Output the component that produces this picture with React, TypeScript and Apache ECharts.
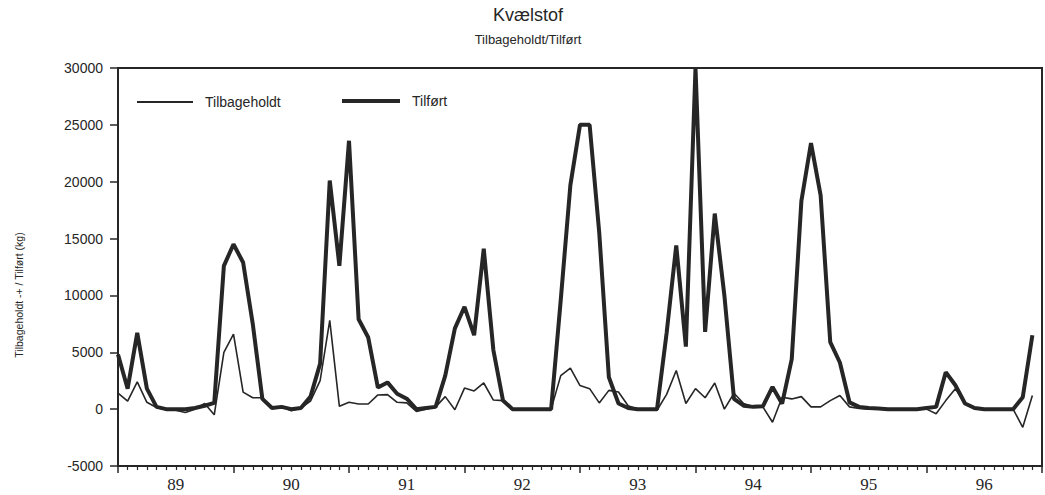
import React, { useEffect, useRef } from "react";
import * as echarts from "echarts";

const yearLabels = ["89", "90", "91", "92", "93", "94", "95", "96"];

// Monthly values, Jan 1989 .. Dec 1996 (kg)
const tilbageholdt = [
  1400, 700, 2400, 600, 150, -50, -100, -300, 0, 500, -500, 5000,
  6600, 1500, 1000, 1000, 100, 200, -150, 100, 700, 2500, 7800, 250,
  600, 450, 450, 1250, 1280, 600, 550, -200, 0, 200, 1100, -50,
  1850, 1600, 2300, 800, 750, 0, 0, 0, 0, 0, 2950, 3600,
  2070, 1800, 550, 1650, 1500, 300, 0, 0, -100, 1300, 3400, 500,
  1800, 1000, 2300, 0, 1400, 500, 200, 200, -1150, 1050, 900, 1100,
  200, 200, 750, 1200, 200, 50, 0, 0, 0, 0, 0, 0,
  0, -400, 750, 1800, 500, 0, 0, 0, 0, 0, -1600, 1200,
];

const tilfoert = [
  4800, 1800, 6700, 1800, 200, 0, 0, 0, 100, 300, 550, 12600,
  14500, 12900, 7500, 900, 100, 200, 0, 100, 1100, 4000, 20100, 12600,
  23600, 7900, 6300, 1900, 2350, 1360, 920, 0, 100, 200, 2950, 7100,
  9000, 6500, 14100, 5200, 750, 0, 0, 0, 0, 0, 9600, 19700,
  25000, 25000, 15500, 2800, 500, 100, 0, 0, 0, 6700, 14400, 5500,
  30000, 6800, 17200, 10000, 900, 300, 200, 250, 1950, 480, 4400, 18300,
  23400, 18800, 5900, 4100, 600, 200, 100, 50, 0, 0, 0, 0,
  100, 200, 3250, 2100, 500, 100, 0, 0, 0, 0, 1050, 6500,
];

const INK = "#262626";
const SANS = "'Liberation Sans', Arial, sans-serif";
const SERIF = "'Liberation Serif', 'Times New Roman', serif";

export default function App() {
  const ref = useRef<HTMLDivElement>(null);

  useEffect(() => {
    if (!ref.current) return;
    const chart = echarts.init(ref.current, null, { renderer: "svg" });
    const toPairs = (arr: number[]) => arr.map((v, i) => [i, v]);

    chart.setOption({
      animation: false,
      backgroundColor: "#ffffff",
      grid: {
        left: 118,
        right: 2,
        top: 68,
        bottom: 29,
        show: true,
        borderColor: INK,
        borderWidth: 2,
      },
      graphic: [
        {
          type: "text",
          x: 528,
          y: 15,
          style: {
            text: "Kvælstof",
            fontSize: 18,
            fontFamily: SANS,
            fill: INK,
            align: "center",
            verticalAlign: "middle",
          },
        },
        {
          type: "text",
          x: 528,
          y: 39,
          style: {
            text: "Tilbageholdt/Tilført",
            fontSize: 13,
            fontFamily: SANS,
            fill: INK,
            align: "center",
            verticalAlign: "middle",
          },
        },
        {
          type: "text",
          x: 19,
          y: 295,
          rotation: Math.PI / 2,
          style: {
            text: "Tilbageholdt -+ / Tilført (kg)",
            fontSize: 10.5,
            fontFamily: SANS,
            fill: INK,
            align: "center",
            verticalAlign: "middle",
          },
        },
      ],
      legend: [
        {
          data: ["Tilbageholdt"],
          left: 132,
          top: 90,
          icon: "rect",
          itemWidth: 56,
          itemHeight: 2,
          selectedMode: false,
          textStyle: { fontSize: 14, fontFamily: SANS, color: INK, padding: [0, 0, 0, 7] },
        },
        {
          data: ["Tilført"],
          left: 337,
          top: 89,
          icon: "rect",
          itemWidth: 58,
          itemHeight: 4,
          selectedMode: false,
          textStyle: { fontSize: 14, fontFamily: SANS, color: INK, padding: [0, 0, 0, 7] },
        },
      ],
      xAxis: [
        {
          type: "value",
          position: "bottom",
          min: 0,
          max: 96,
          interval: 12,
          axisLine: { show: true, onZero: false, lineStyle: { color: INK, width: 2 } },
          axisTick: { show: true, length: 7, lineStyle: { color: INK, width: 1.5 } },
          minorTick: { show: true, splitNumber: 12, length: 4, lineStyle: { color: INK, width: 1.2 } },
          axisLabel: { show: false },
          splitLine: { show: false },
        },
        {
          type: "value",
          position: "bottom",
          min: 0,
          max: 96,
          interval: 6,
          axisLine: { show: false, onZero: false },
          axisTick: { show: false },
          splitLine: { show: false },
          axisLabel: {
            show: true,
            margin: 10,
            fontSize: 17,
            fontFamily: SERIF,
            color: INK,
            formatter: (v: number) => (v % 12 === 6 ? yearLabels[(v - 6) / 12] ?? "" : ""),
          },
        },
      ],
      yAxis: {
        type: "value",
        min: -5000,
        max: 30000,
        interval: 5000,
        axisLine: { show: true, onZero: false, lineStyle: { color: INK, width: 2 } },
        axisTick: { show: true, length: 8, lineStyle: { color: INK, width: 1.5 } },
        axisLabel: {
          margin: 15,
          fontSize: 14,
          fontFamily: SANS,
          color: INK,
          formatter: (v: number) => String(v),
        },
        splitLine: { show: false },
      },
      series: [
        {
          name: "Tilbageholdt",
          type: "line",
          xAxisIndex: 0,
          data: toPairs(tilbageholdt),
          symbol: "none",
          color: INK,
          lineStyle: { color: INK, width: 1.6 },
          z: 3,
        },
        {
          name: "Tilført",
          type: "line",
          xAxisIndex: 0,
          data: toPairs(tilfoert),
          symbol: "none",
          color: INK,
          lineStyle: { color: INK, width: 4 },
          z: 2,
        },
      ],
    });

    return () => chart.dispose();
  }, []);

  return (
    <div
      ref={ref}
      style={{ position: "fixed", left: 0, top: 0, width: 1045, height: 495, background: "#fff" }}
    />
  );
}
